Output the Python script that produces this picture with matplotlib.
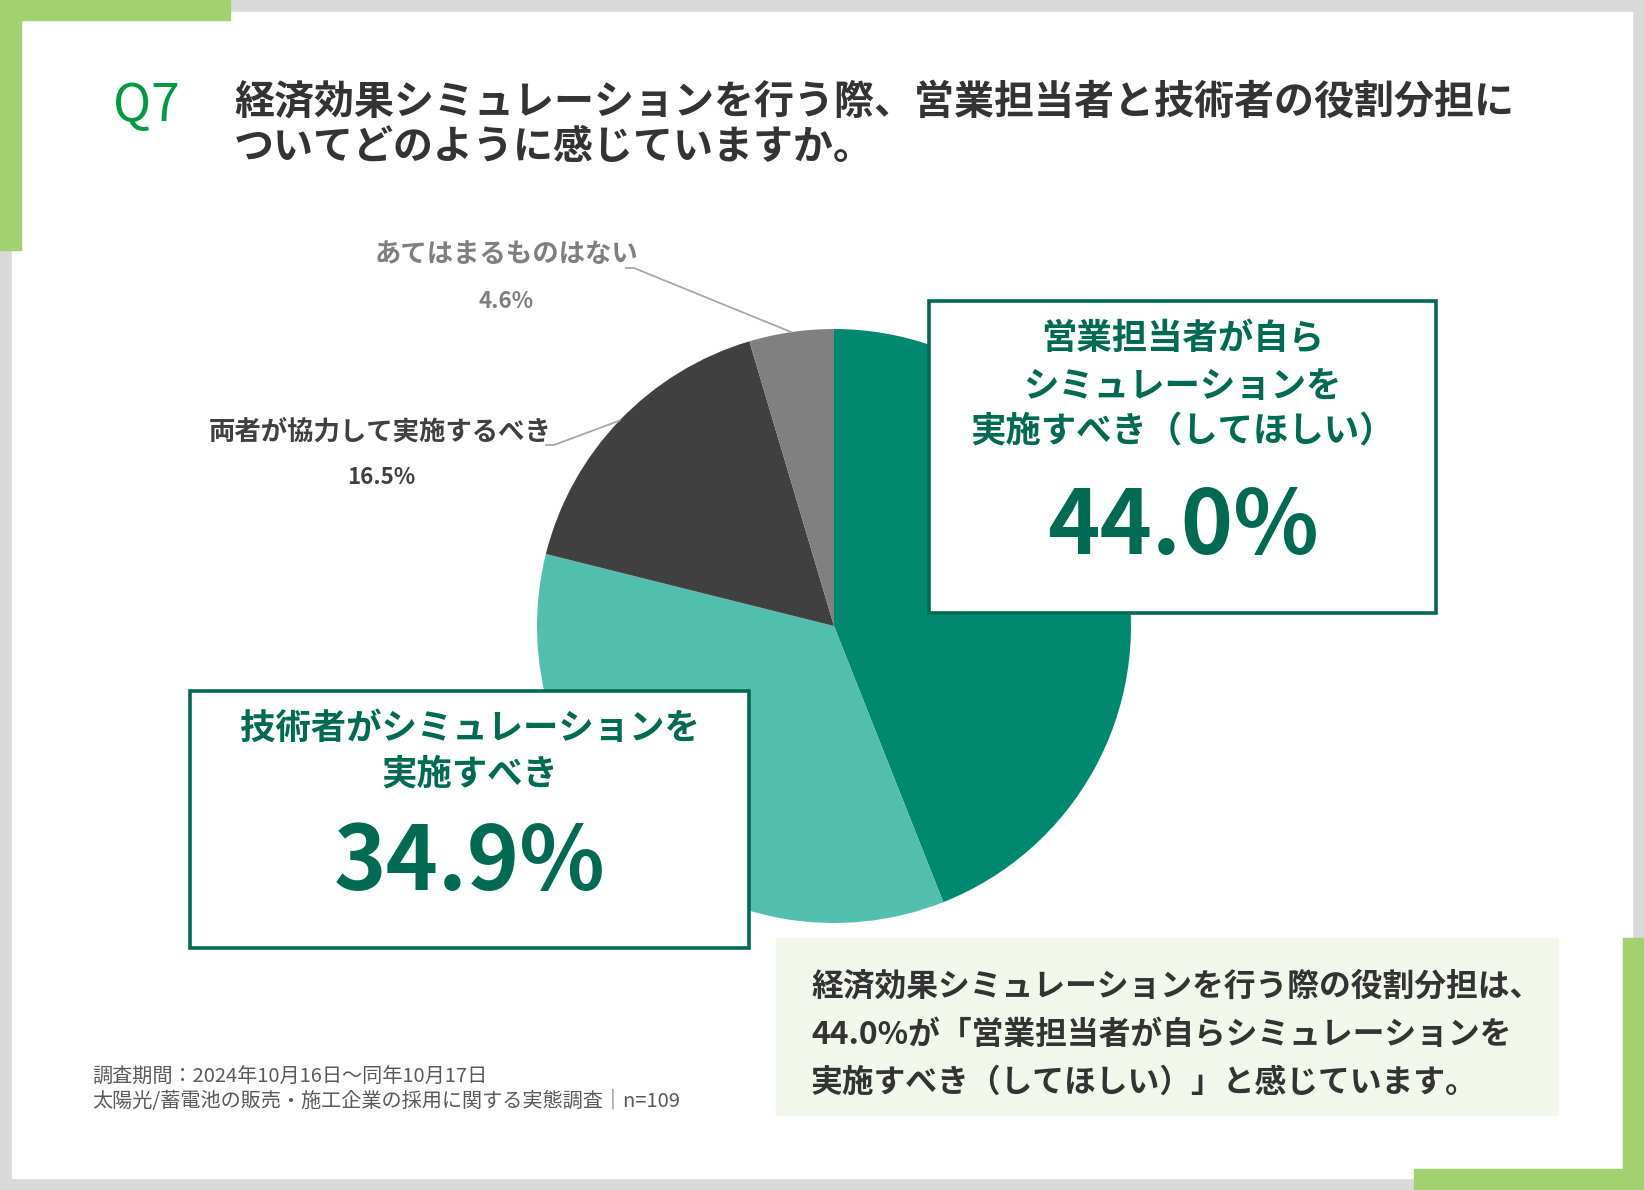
import numpy as np
import matplotlib
matplotlib.use('Agg')
import matplotlib.pyplot as plt
from matplotlib.patches import Rectangle

plt.rcParams['font.family'] = ['Noto Sans CJK JP', 'DejaVu Sans']

# データ
labels = ['営業担当者が自ら\nシミュレーションを\n実施すべき（してほしい）',
          '技術者がシミュレーションを\n実施すべき',
          '両者が協力して実施するべき',
          'あてはまるものはない']
values = [44.0, 34.9, 16.5, 4.6]
pie_colors = ['#00896F', '#52BEAE', '#404040', '#808080']

title_q = 'Q7'
title_lines = ['経済効果シミュレーションを行う際、営業担当者と技術者の役割分担に',
               'ついてどのように感じていますか。']
summary_lines = ['経済効果シミュレーションを行う際の役割分担は、',
                 '44.0%が「営業担当者が自らシミュレーションを',
                 '実施すべき（してほしい）」と感じています。']
note_lines = ['調査期間：2024年10月16日～同年10月17日',
              '太陽光/蓄電池の販売・施工企業の採用に関する実態調査｜n=109']

W, H = 1644, 1190
DARK_GREEN = '#006B52'
LIGHT_GREEN = '#A4D170'


def fy(y):
    # 画像座標(上から)をデータ座標(下から)に変換
    return H - y


fig = plt.figure(figsize=(W / 100, H / 100), dpi=100)
ax = fig.add_axes([0, 0, 1, 1])

# 背景の枠
ax.add_patch(Rectangle((0, 0), W, H, color='#D9D9D9', zorder=0))
ax.add_patch(Rectangle((12, fy(1178)), 1632 - 12, 1178 - 12, color='white', zorder=0.5))
# 緑のコーナー
ax.add_patch(Rectangle((0, fy(20)), 230, 20, color=LIGHT_GREEN, zorder=1))
ax.add_patch(Rectangle((0, fy(250)), 21, 250, color=LIGHT_GREEN, zorder=1))
ax.add_patch(Rectangle((1414, 0), W - 1414, H - 1169, color=LIGHT_GREEN, zorder=1))
ax.add_patch(Rectangle((1623, 0), W - 1623, H - 938, color=LIGHT_GREEN, zorder=1))

# タイトル
ax.text(113, fy(106), title_q, color='#009944', fontsize=37, ha='left', va='center',
        family=['Noto Sans CJK JP'], fontweight='normal', zorder=3)
for i, line in enumerate(title_lines):
    ax.text(234, fy(102 + 46 * i), line, color='#333333', fontsize=28.8, fontweight='bold',
            ha='left', va='center', zorder=3)

# 円グラフ
cx, cy, r = 834, fy(626), 297
wedges, _ = ax.pie(values, colors=pie_colors, startangle=90, counterclock=False,
                   center=(cx, cy), radius=r, wedgeprops=dict(linewidth=0), frame=True)
for w in wedges:
    w.set_zorder(2)

# ラベルとリーダー線 (小さい2項目)
cum = np.cumsum([0] + values[:-1]) / 100.0
mid_angles = [np.deg2rad(90 - 360 * (c + v / 200.0)) for c, v in zip(cum, values)]

small = [(3, (506, 255), (506, 302), '#7F7F7F', [(626, 268), (634, 268)]),
         (2, (380, 432), (381, 477), '#404040', [(546, 445), (554, 445)])]
for idx, name_pos, pct_pos, col, knee in small:
    ex = cx + r * np.cos(mid_angles[idx])
    ey = cy + r * np.sin(mid_angles[idx])
    xs = [knee[0][0], knee[1][0], ex]
    ys = [fy(knee[0][1]), fy(knee[1][1]), ey]
    ax.plot(xs, ys, color='#A6A6A6', lw=1.3, zorder=3)
    ax.text(name_pos[0], fy(name_pos[1]), labels[idx], color=col, fontsize=19,
            fontweight='bold', ha='center', va='center', zorder=3)
    ax.text(pct_pos[0], fy(pct_pos[1]), f'{values[idx]:.1f}%', color=col, fontsize=16,
            fontweight='bold', ha='center', va='center', zorder=3)

# 強調ボックス
boxes = [(0, (929, 301, 1436, 613), [339, 386, 432], 528),
         (1, (190, 691, 749, 948), [728, 774], 864)]
for idx, (x0, y0, x1, y1), line_ys, pct_y in boxes:
    ax.add_patch(Rectangle((x0, fy(y1)), x1 - x0, y1 - y0, facecolor='white',
                           edgecolor=DARK_GREEN, lw=2.6, zorder=4))
    xc = (x0 + x1) / 2
    for ly, line in zip(line_ys, labels[idx].split('\n')):
        ax.text(xc, fy(ly), line, color=DARK_GREEN, fontsize=25.5, fontweight='bold',
                ha='center', va='center', zorder=5)
    ax.text(xc, fy(pct_y), f'{values[idx]:.1f}%', color=DARK_GREEN, fontsize=64,
            fontweight='bold', ha='center', va='center', zorder=5)

# まとめボックス
ax.add_patch(Rectangle((776, fy(1115)), 1558 - 776, 1115 - 938, color='#F2F7EC', zorder=1))
for i, line in enumerate(summary_lines):
    ax.text(811, fy(987 + 48 * i), line, color='#333333', fontsize=22.9, fontweight='bold',
            ha='left', va='center', zorder=3)

# 注記
for i, line in enumerate(note_lines):
    ax.text(92, fy(1077 + 24 * i), line, color='#595959', fontsize=14.5,
            ha='left', va='center', zorder=3)

ax.set_xlim(0, W)
ax.set_ylim(0, H)
ax.set_aspect('auto')
ax.axis('off')

fig.savefig('out.png', dpi=100)
